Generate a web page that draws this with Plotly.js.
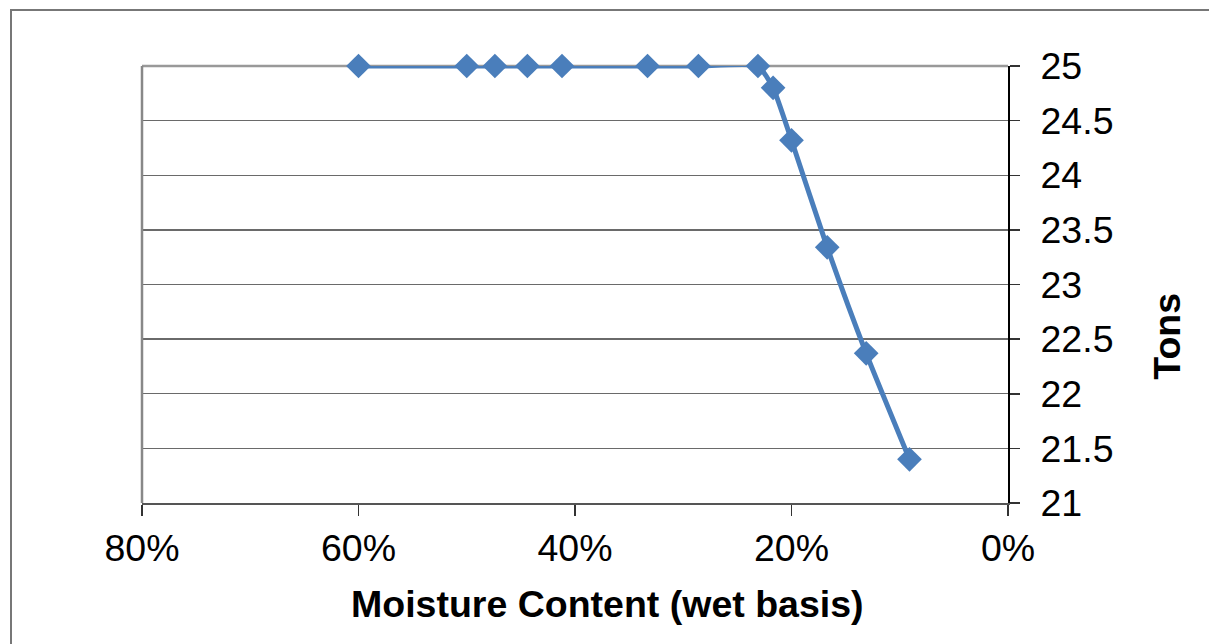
<!DOCTYPE html>
<html>
<head>
<meta charset="utf-8">
<script src="https://cdn.plot.ly/plotly-3.0.1.min.js"></script>
<style>html,body{margin:0;padding:0;background:#fff;}#chart{width:1209px;height:644px;}</style>
</head>
<body>
<div id="chart"></div>
<script>
// Moisture content (wet basis, fraction) and weight in tons
const moisture = [0.600, 0.500, 0.474, 0.444, 0.412, 0.333, 0.286, 0.231, 0.217, 0.200, 0.167, 0.131, 0.091];
const tons = [25, 25, 25, 25, 25, 25, 25, 25, 24.80, 24.32, 23.34, 22.37, 21.40];
const xTitle = "Moisture Content (wet basis)";
const yTitle = "Tons";

const W = 1209, H = 644;
const L = 142, R = 1008, T = 66, B = 503.5;
const px = v => (v - L) / (R - L);
const py = v => (B - v) / (B - T);

const trace = {
  x: moisture, y: tons, type: 'scatter', mode: 'lines+markers',
  line: {color: '#4a7ebb', width: 5, shape: 'spline', smoothing: 0.5},
  marker: {symbol: 'diamond', size: 19, color: '#4a7ebb'},
  cliponaxis: false, hoverinfo: 'skip'
};

const font = {family: 'Liberation Sans, Arial, sans-serif', color: '#000'};
const FS = 37.5;

const layout = {
  width: W, height: H,
  margin: {l: L, r: W - R, t: T, b: H - B, pad: 0},
  paper_bgcolor: '#fff', plot_bgcolor: '#fff',
  showlegend: false,
  font: font,
  xaxis: {
    range: [0.8, 0], tickvals: [0.8, 0.6, 0.4, 0.2, 0], tickformat: '.0%',
    showgrid: false, zeroline: false,
    showline: true, linecolor: '#555', linewidth: 2,
    ticks: 'outside', ticklen: 11, tickcolor: '#333', tickwidth: 1.5,
    tickfont: {family: font.family, size: FS, color: '#000'},
    ticklabelstandoff: 0
  },
  yaxis: {
    side: 'right', range: [21, 25], dtick: 0.5, tick0: 21,
    showgrid: true, gridcolor: '#6a6a6a', gridwidth: 1.4,
    zeroline: false, showline: true, linecolor: '#000', linewidth: 2,
    ticks: 'outside', ticklen: 10, tickcolor: '#333', tickwidth: 1.5,
    tickfont: {family: font.family, size: FS, color: '#000'},
    ticklabelstandoff: 13
  },
  shapes: [
    {type: 'rect', xref: 'paper', yref: 'paper', x0: px(11), x1: px(1220), y0: py(660), y1: py(10),
     line: {color: '#777', width: 2}, fillcolor: 'rgba(0,0,0,0)', layer: 'below'},
    {type: 'line', xref: 'paper', yref: 'paper', x0: 0, x1: 0, y0: 0, y1: 1, line: {color: '#888', width: 2.5}},
    {type: 'line', xref: 'paper', yref: 'paper', x0: 0, x1: 1, y0: 1, y1: 1, line: {color: '#999', width: 2.5}, layer: 'below'}
  ],
  annotations: [
    {text: '<b>' + xTitle + '</b>', xref: 'paper', yref: 'paper', x: px(607), y: py(605),
     showarrow: false, font: {family: font.family, size: FS, color: '#000'}, xanchor: 'center', yanchor: 'middle'},
    {text: '<b>' + yTitle + '</b>', xref: 'paper', yref: 'paper', x: px(1167), y: py(337),
     showarrow: false, textangle: -90, font: {family: font.family, size: FS, color: '#000'}, xanchor: 'center', yanchor: 'middle'}
  ]
};

Plotly.newPlot('chart', [trace], layout, {displayModeBar: false, staticPlot: true});
</script>
</body>
</html>
